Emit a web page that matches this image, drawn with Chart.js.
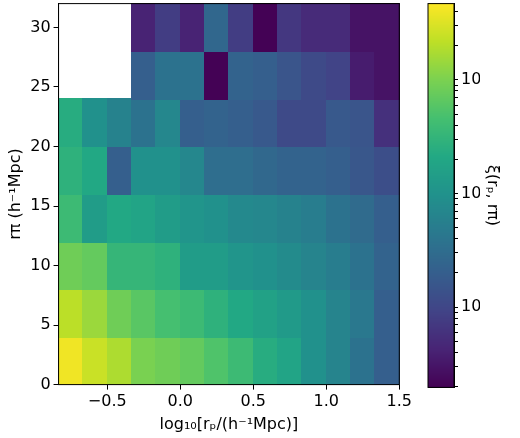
<!DOCTYPE html>
<html><head><meta charset="utf-8">
<script src="https://cdn.jsdelivr.net/npm/chart.js@4"></script>
<style>
body{margin:0;background:#fff;width:520px;height:438px;position:relative;overflow:hidden}
#main{position:absolute;left:0;top:-9px}
#cbar{position:absolute;left:412px;top:-9px}
</style></head>
<body>
<canvas id="main" width="415" height="447"></canvas>
<canvas id="cbar" width="108" height="409"></canvas>
<script>
// bin edges
const xEdges = [-0.8333, -0.6667, -0.5, -0.3333, -0.1667, 0, 0.1667, 0.3333, 0.5, 0.6667, 0.8333, 1.0, 1.1667, 1.3333, 1.5];
const yEdges = [0, 4, 8, 12, 16, 20, 24, 28, 32];
// xi(rp, rpi), one row per rpi bin from bottom; null = empty bin
const row0 = [40, 25, 18, 9.8, 8.5, 7.2, 5.3, 3.9, 2.4, 1.8, 0.95, 0.65, 0.37, 0.2];
const row1 = [21, 14.5, 8.5, 6.2, 4.6, 3.9, 2.8, 2.1, 1.65, 1.3, 0.95, 0.65, 0.44, 0.2];
const row2 = [8.5, 7.2, 3.3, 3.3, 2.8, 1.4, 1.4, 1.1, 0.95, 0.8, 0.65, 0.52, 0.37, 0.23];
const row3 = [3.9, 1.4, 2.1, 1.8, 1.4, 1.1, 0.95, 0.75, 0.7, 0.6, 0.52, 0.37, 0.29, 0.2];
const row4 = [2.8, 2.1, 0.2, 0.95, 0.95, 0.7, 0.32, 0.32, 0.27, 0.23, 0.23, 0.2, 0.16, 0.125];
const row5 = [2.4, 0.95, 0.6, 0.37, 0.7, 0.2, 0.23, 0.2, 0.17, 0.11, 0.11, 0.17, 0.15, 0.057];
const row6 = [null, null, null, 0.2, 0.37, 0.37, 0.02, 0.23, 0.2, 0.15, 0.11, 0.093, 0.036, 0.029];
const row7 = [null, null, null, 0.042, 0.079, 0.042, 0.26, 0.079, 0.02, 0.068, 0.05, 0.05, 0.029, 0.029];
const rows = [row0, row1, row2, row3, row4, row5, row6, row7];
const vmin = 0.0196, vmax = 47;
const xTicks = [-0.5, 0, 0.5, 1.0, 1.5];
const yTicks = [0, 5, 10, 15, 20, 25, 30];

const viridis = ['#440154','#482475','#414487','#355f8d','#2a788e','#21918c','#22a884','#44bf70','#7ad151','#bddf26','#fde725'];
function hex(c){return [1,3,5].map(i=>parseInt(c.substr(i,2),16));}
function cmap(t){
  t = Math.max(0, Math.min(1, t));
  const p = t*10, i = Math.min(9, Math.floor(p)), f = p-i;
  const a = hex(viridis[i]), b = hex(viridis[i+1]);
  return 'rgb(' + a.map((v,k)=>Math.round(v+(b[k]-v)*f)).join(',') + ')';
}
function norm(v){return (Math.log10(v)-Math.log10(vmin))/(Math.log10(vmax)-Math.log10(vmin));}

const font = {family:'DejaVu Sans', size:16};

const cells = {
  id:'cells',
  beforeDatasetsDraw(chart){
    const {ctx, scales:{x, y}} = chart;
    rows.forEach((r, j) => r.forEach((v, i) => {
      if (v == null) return;
      const x0 = x.getPixelForValue(xEdges[i]), x1 = x.getPixelForValue(xEdges[i+1]);
      const y0 = y.getPixelForValue(yEdges[j+1]), y1 = y.getPixelForValue(yEdges[j]);
      ctx.fillStyle = cmap(norm(v));
      ctx.fillRect(Math.floor(x0), Math.floor(y0), Math.ceil(x1-x0)+1, Math.ceil(y1-y0)+1);
    }));
  },
  afterDraw(chart){
    const {ctx, chartArea:a} = chart;
    ctx.strokeStyle = '#000'; ctx.lineWidth = 1;
    ctx.strokeRect(a.left, a.top, a.right-a.left, a.bottom-a.top);
  }
};

new Chart(document.getElementById('main'), {
  type:'scatter',
  data:{datasets:[{data:[]}]},
  plugins:[cells],
  options:{
    responsive:false, animation:false,
    layout:{padding:{top:0, right:10, left:2}},
    plugins:{legend:{display:false}, tooltip:{enabled:false}},
    scales:{
      x:{type:'linear', min:xEdges[0], max:xEdges[xEdges.length-1],
         afterBuildTicks(s){s.ticks = xTicks.map(v=>({value:v}));},
         ticks:{color:'#000', font, maxRotation:0, callback:v=>v.toFixed(1).replace('-','\u2212')},
         grid:{drawOnChartArea:false, color:'#000', tickLength:5},
         border:{color:'#000'},
         title:{display:true, text:'log\u2081\u2080[r\u209a/(h\u207b\u00b9Mpc)]', color:'#000', font, padding:{top:0}}},
      y:{type:'linear', min:0, max:32,
         afterBuildTicks(s){s.ticks = yTicks.map(v=>({value:v}));},
         ticks:{color:'#000', font},
         grid:{drawOnChartArea:false, color:'#000', tickLength:5},
         border:{color:'#000'},
         title:{display:true, text:'r\u03c0 (h\u207b\u00b9Mpc)', color:'#000', font, padding:{bottom:2}}}
    }
  }
});

const cbTicks = {0.1:'10\u207b\u00b9', 1:'10\u2070', 10:'10\u00b9'};
const bar = {
  id:'bar',
  beforeDatasetsDraw(chart){
    const {ctx, chartArea:a, scales:{y}} = chart;
    for (let py = Math.floor(a.top); py < a.bottom; py++) {
      ctx.fillStyle = cmap(norm(y.getValueForPixel(py+0.5)));
      ctx.fillRect(a.left, py, a.right-a.left, 1);
    }
    ctx.strokeStyle = '#000'; ctx.lineWidth = 1;
    ctx.strokeRect(a.left, a.top, a.right-a.left, a.bottom-a.top);
  },
  afterDraw(chart){
    const {ctx, chartArea:a} = chart;
    ctx.save();
    ctx.translate(80, (a.top+a.bottom)/2);
    ctx.rotate(Math.PI/2);
    ctx.font = '16px "DejaVu Sans"';
    ctx.fillStyle = '#000';
    ctx.textAlign = 'center'; ctx.textBaseline = 'middle';
    ctx.fillText('\u03be(r\u209a, r\u03c0)', 0, 0);
    ctx.restore();
  }
};
new Chart(document.getElementById('cbar'), {
  type:'scatter',
  data:{datasets:[{data:[]}]},
  plugins:[bar],
  options:{
    responsive:false, animation:false,
    layout:{padding:{top:0, left:16, bottom:0, right:40}},
    plugins:{legend:{display:false}, tooltip:{enabled:false}},
    scales:{
      x:{display:false, min:0, max:1},
      y:{type:'logarithmic', position:'right', min:vmin, max:vmax,
         afterBuildTicks(s){
           const t = [];
           [0.01,0.1,1,10].forEach(d=>{for(let k=1;k<10;k++){const v=d*k; if(v>=vmin&&v<=vmax) t.push({value:v});}});
           s.ticks = t;
         },
         ticks:{color:'#000', font, autoSkip:false, callback:v=>cbTicks[+v.toPrecision(3)] || ''},
         grid:{drawOnChartArea:false, color:'#000', tickLength:4},
         border:{color:'#000'}}
    }
  }
});
</script>
</body></html>
